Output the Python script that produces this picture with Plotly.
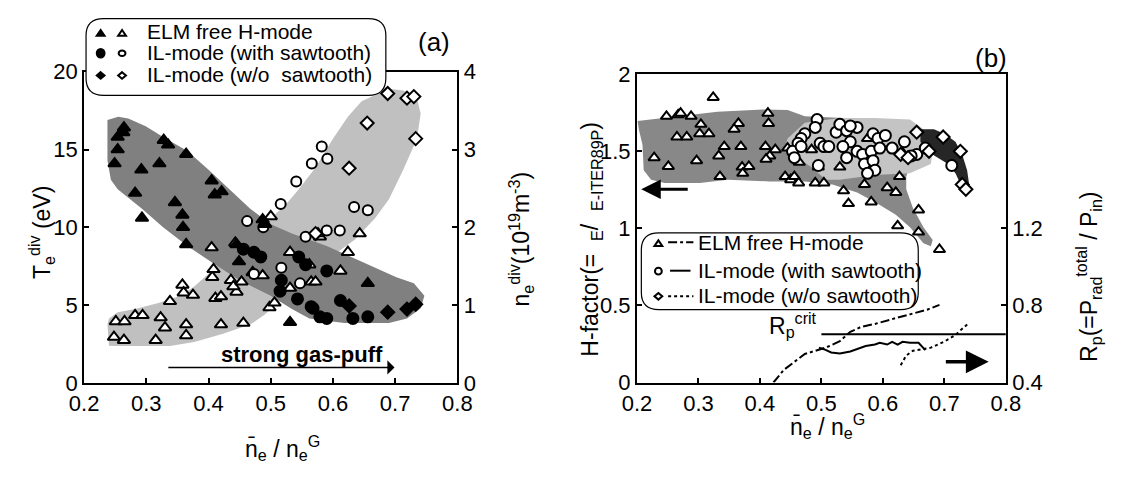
import plotly.graph_objects as go

W, H = 1125, 477
FONT = "Liberation Sans, Arial, sans-serif"

# ---------------- Panel (a) data ----------------
# ELM free H-mode, Te^div (left axis, eV)
a_elm_te_x = [0.264, 0.263, 0.254, 0.254, 0.249, 0.292, 0.282, 0.293, 0.328, 0.335, 0.321, 0.364,
              0.346, 0.358, 0.359, 0.364, 0.405, 0.410, 0.421, 0.445, 0.449, 0.487, 0.491, 0.531, 0.656]
a_elm_te_y = [16.4, 16.1, 15.8, 15.0, 14.1, 13.7, 12.2, 10.6, 15.6, 15.3, 14.1, 14.7,
              11.6, 10.8, 10.0, 8.9, 13.0, 12.1, 12.3, 8.9, 7.8, 10.5, 10.2, 3.9, 6.4]
# IL-mode (with sawtooth), Te^div
a_ils_te_x = [0.456, 0.473, 0.484, 0.517, 0.515, 0.543, 0.545, 0.556, 0.565, 0.568, 0.579, 0.590,
              0.590, 0.612, 0.632, 0.656]
a_ils_te_y = [8.6, 8.4, 8.1, 6.6, 5.9, 5.4, 8.1, 7.6, 4.9, 4.8, 4.25, 4.15, 7.2, 5.3, 4.15, 4.25]
# IL-mode (w/o sawtooth), Te^div
a_ilw_te_x = [0.626, 0.688, 0.719, 0.733]
a_ilw_te_y = [4.95, 4.55, 4.75, 5.06]

# ELM free H-mode, ne^div (right axis, 1e19 m^-3)
a_elm_ne_x = [0.248, 0.251, 0.265, 0.264, 0.282, 0.294, 0.315, 0.323, 0.330, 0.338, 0.358, 0.360,
              0.375, 0.364, 0.364, 0.405, 0.406, 0.408, 0.411, 0.420, 0.420, 0.443, 0.436, 0.445,
              0.440, 0.453, 0.456, 0.471, 0.487, 0.500, 0.498, 0.506, 0.531, 0.531, 0.562, 0.565,
              0.572, 0.579, 0.576, 0.612, 0.624, 0.643]
a_elm_ne_y = [0.59, 0.79, 0.79, 0.55, 0.87, 0.87, 0.55, 0.84, 0.71, 1.05, 1.26, 1.16,
              1.13, 0.75, 0.61, 1.74, 1.36, 1.46, 1.09, 1.11, 0.75, 1.80, 1.32, 1.17,
              1.24, 1.30, 0.77, 1.42, 1.38, 2.14, 0.97, 1.03, 1.68, 1.22, 1.52, 1.30,
              1.30, 1.88, 1.92, 1.44, 1.68, 1.92]
# IL-mode (with sawtooth), ne^div
a_ils_ne_x = [0.462, 0.488, 0.473, 0.517, 0.516, 0.541, 0.547, 0.556, 0.566, 0.582, 0.591, 0.590,
              0.611, 0.634, 0.656]
a_ils_ne_y = [2.08, 2.00, 1.40, 1.48, 2.30, 2.59, 1.28, 1.88, 2.82, 3.04, 2.88, 1.96,
              1.96, 2.26, 2.22]
# IL-mode (w/o sawtooth), ne^div
a_ilw_ne_x = [0.688, 0.719, 0.730, 0.655, 0.733, 0.626, 0.572]
a_ilw_ne_y = [3.72, 3.66, 3.68, 3.34, 3.14, 2.76, 1.92]

# shaded bands (a): Te band in eV, ne band in 1e19 m^-3
a_te_band_x = [0.2375, 0.255, 0.271, 0.299, 0.327, 0.366, 0.400, 0.433, 0.467, 0.500, 0.534, 0.590,
               0.646, 0.702, 0.730, 0.747, 0.741, 0.719, 0.690, 0.618, 0.562, 0.534, 0.500, 0.450,
               0.411, 0.366, 0.327, 0.293, 0.254, 0.243, 0.2375, 0.2375]
a_te_band_y = [16.9, 17.1, 17.0, 16.5, 15.8, 14.9, 13.7, 12.45, 11.2, 10.2, 9.6, 8.8,
               7.8, 6.8, 6.4, 5.6, 4.8, 4.15, 3.85, 3.85, 4.15, 4.75, 5.6, 6.6,
               7.6, 8.8, 10.0, 11.2, 12.45, 13.05, 14.3, 15.7]
a_ne_band_x = [0.2375, 0.240, 0.254, 0.338, 0.377, 0.422, 0.467, 0.489, 0.512, 0.545, 0.579, 0.607,
               0.635, 0.668, 0.690, 0.713, 0.735, 0.741, 0.735, 0.713, 0.690, 0.646, 0.624, 0.600,
               0.573, 0.545, 0.523, 0.500, 0.478, 0.450, 0.422, 0.400, 0.377, 0.355, 0.321, 0.282,
               0.254, 0.240]
a_ne_band_y = [0.75, 0.48, 0.474, 0.474, 0.526, 0.628, 0.75, 0.87, 1.032, 1.28, 1.52, 1.68,
               1.84, 2.12, 2.36, 2.74, 3.14, 3.46, 3.66, 3.76, 3.78, 3.62, 3.42, 3.14,
               2.78, 2.49, 2.28, 2.12, 2.0, 1.84, 1.56, 1.4, 1.24, 1.12, 1.032, 0.95,
               0.91, 0.83]
a_arrow_x = [0.333, 0.699]
a_arrow_te = 1.0

# axis ranges (a)
TE_RANGE = [0, 20]
NE_RANGE = [0, 4]

# ---------------- Panel (b) data ----------------
b_elm_x = [0.324, 0.248, 0.267, 0.271, 0.288, 0.304, 0.302, 0.317, 0.265, 0.281, 0.297, 0.228, 0.251,
           0.365, 0.358, 0.342, 0.369, 0.333, 0.335, 0.413, 0.414, 0.409, 0.425, 0.416, 0.410,
           0.371, 0.372, 0.382, 0.445, 0.441, 0.450, 0.456, 0.463, 0.464, 0.484, 0.490, 0.504,
           0.495, 0.530, 0.536, 0.544, 0.570, 0.575, 0.581, 0.607, 0.621, 0.627, 0.632, 0.624,
           0.658, 0.658, 0.692]
b_elm_h = [1.85, 1.727, 1.737, 1.747, 1.727, 1.675, 1.614, 1.614, 1.593, 1.593, 1.439, 1.459, 1.402,
           1.681, 1.644, 1.531, 1.531, 1.47, 1.336, 1.747, 1.681, 1.531, 1.511, 1.47, 1.449,
           1.398, 1.357, 1.402, 1.521, 1.336, 1.316, 1.336, 1.295, 1.429, 1.511, 1.295, 1.295,
           1.398, 1.398, 1.244, 1.161, 1.285, 1.583, 1.172, 1.264, 1.233, 1.336, 1.49, 1.017,
           1.12, 0.976, 0.863]
b_ils_x = [0.493, 0.490, 0.473, 0.467, 0.462, 0.453, 0.456, 0.467, 0.498, 0.504, 0.512, 0.524,
           0.530, 0.541, 0.547, 0.535, 0.558, 0.541, 0.558, 0.547, 0.567, 0.570, 0.584, 0.581,
           0.584, 0.587, 0.575, 0.592, 0.604, 0.595, 0.615, 0.635, 0.655, 0.646, 0.669, 0.712, 0.495]
b_ils_h = [1.706, 1.655, 1.614, 1.583, 1.552, 1.5, 1.459, 1.531, 1.552, 1.531, 1.531, 1.624,
           1.675, 1.634, 1.562, 1.531, 1.5, 1.459, 1.655, 1.665, 1.48, 1.418, 1.614, 1.5,
           1.439, 1.377, 1.357, 1.583, 1.603, 1.521, 1.521, 1.562, 1.48, 1.47, 1.521, 1.408, 1.408]
b_ilw_x = [0.655, 0.698, 0.629, 0.641, 0.675, 0.726, 0.729, 0.735]
b_ilw_h = [1.624, 1.593, 1.48, 1.459, 1.5, 1.5, 1.285, 1.254]

# radiation fraction curves (right axis)
b_elm_rp_x = [0.422, 0.439, 0.473, 0.507, 0.530, 0.547, 0.564, 0.587, 0.615, 0.644, 0.672, 0.692]
b_elm_rp = [0.40, 0.466, 0.548, 0.581, 0.614, 0.663, 0.688, 0.704, 0.729, 0.754, 0.778, 0.803]
b_ils_rp_x = [0.496, 0.504, 0.516, 0.530, 0.547, 0.558, 0.572, 0.587, 0.595, 0.607, 0.615, 0.624,
              0.632, 0.644, 0.658, 0.669]
b_ils_rp = [0.581, 0.573, 0.556, 0.551, 0.561, 0.573, 0.589, 0.597, 0.606, 0.597, 0.611, 0.597,
            0.611, 0.606, 0.606, 0.568]
b_ilw_rp_x = [0.629, 0.638, 0.649, 0.678, 0.701, 0.718, 0.729, 0.738]
b_ilw_rp = [0.49, 0.54, 0.565, 0.581, 0.614, 0.647, 0.679, 0.704]
b_rp_crit = 0.65
b_rp_crit_x = [0.5, 0.8]

# shaded bands (b)
b_elm_band_x = [0.201, 0.245, 0.331, 0.405, 0.445, 0.473, 0.644, 0.655, 0.649, 0.638, 0.638, 0.649,
                0.666, 0.681, 0.678, 0.666, 0.644, 0.621, 0.587, 0.558, 0.518, 0.473, 0.416, 0.348,
                0.302, 0.245, 0.223, 0.211, 0.209, 0.203]
b_elm_band_h = [1.696, 1.716, 1.757, 1.772, 1.768, 1.727, 1.696, 1.624, 1.459, 1.336, 1.254, 1.13,
                1.007, 0.925, 0.884, 0.904, 1.007, 1.089, 1.172, 1.233, 1.285, 1.305, 1.305, 1.316,
                1.295, 1.295, 1.316, 1.377, 1.542, 1.644]
b_ils_band_x = [0.445, 0.473, 0.530, 0.587, 0.644, 0.666, 0.683, 0.678, 0.644, 0.587, 0.530, 0.507,
                0.484, 0.450, 0.442]
b_ils_band_h = [1.583, 1.686, 1.716, 1.716, 1.706, 1.644, 1.542, 1.418, 1.357, 1.346, 1.316, 1.316,
                1.398, 1.480, 1.542]
b_ilw_band_x = [0.661, 0.683, 0.700, 0.718, 0.729, 0.737, 0.740, 0.735, 0.729, 0.718, 0.706, 0.689,
                0.672, 0.661]
b_ilw_band_h = [1.644, 1.644, 1.614, 1.562, 1.48, 1.377, 1.295, 1.254, 1.264, 1.357, 1.418, 1.459,
                1.5, 1.562]
b_arrow_left_x = [0.285, 0.207]
b_arrow_left_h = 1.254
b_arrow_right_x = [0.700, 0.772]
b_arrow_right_h = 0.134

# ---------------- geometry helpers (pixels -> paper) ----------------
def px(x):
    return x / W

def py(y):
    return 1 - y / H

A_L, A_R, A_T, A_B = 71.0, 454.5, 63.0, 391.5
B_L, B_R, B_T, B_B = 639.0, 1018.0, 65.7, 391.0

# Te values are drawn in the ne (right-axis) layer so that the layering matches
K_TE = (NE_RANGE[1] - NE_RANGE[0]) / (TE_RANGE[1] - TE_RANGE[0])
te = lambda v: [t * K_TE for t in v]

fig = go.Figure()

def band(x, y, color, xa, ya):
    fig.add_trace(go.Scatter(x=x + [x[0]], y=y + [y[0]], fill="toself", fillcolor=color,
                             line=dict(width=0, color=color), mode="lines", hoverinfo="skip",
                             xaxis=xa, yaxis=ya, showlegend=False))

def pts(x, y, symbol, filled, size, xa, ya):
    fig.add_trace(go.Scatter(x=x, y=y, mode="markers", xaxis=xa, yaxis=ya, showlegend=False,
                             marker=dict(symbol=symbol, size=size,
                                         color="black" if filled else "white",
                                         line=dict(color="black", width=2))))

# panel (a)
fig.add_trace(go.Scatter(x=[], y=[], xaxis="x", yaxis="y", showlegend=False))
band(a_ne_band_x, a_ne_band_y, "#c0c0c0", "x", "y2")
band(a_te_band_x, te(a_te_band_y), "#808080", "x", "y2")
pts(a_elm_ne_x, a_elm_ne_y, "triangle-up", False, 11, "x", "y2")
pts(a_ils_ne_x, a_ils_ne_y, "circle", False, 10, "x", "y2")
pts(a_ilw_ne_x, a_ilw_ne_y, "diamond", False, 10, "x", "y2")
pts(a_elm_te_x, te(a_elm_te_y), "triangle-up", True, 11, "x", "y2")
pts(a_ils_te_x, te(a_ils_te_y), "circle", True, 11, "x", "y2")
pts(a_ilw_te_x, te(a_ilw_te_y), "diamond", True, 10, "x", "y2")

# panel (b)
band(b_elm_band_x, b_elm_band_h, "#888888", "x2", "y3")
band(b_ils_band_x, b_ils_band_h, "#c4c4c4", "x2", "y3")
band(b_ilw_band_x, b_ilw_band_h, "#262626", "x2", "y3")
pts(b_elm_x, b_elm_h, "triangle-up", False, 10, "x2", "y3")
pts(b_ils_x, b_ils_h, "circle", False, 11, "x2", "y3")
pts(b_ilw_x, b_ilw_h, "diamond", False, 10, "x2", "y3")

def line(x, y, dash, xa, ya):
    fig.add_trace(go.Scatter(x=x, y=y, mode="lines", xaxis=xa, yaxis=ya, showlegend=False,
                             line=dict(color="black", width=2, dash=dash)))

line(b_elm_rp_x, b_elm_rp, "dashdot", "x2", "y4")
line(b_ils_rp_x, b_ils_rp, "solid", "x2", "y4")
line(b_ilw_rp_x, b_ilw_rp, "dot", "x2", "y4")
line(b_rp_crit_x, [b_rp_crit, b_rp_crit], "solid", "x2", "y4")

TICKSIZE = 22
axis_common = dict(showline=True, linecolor="black", linewidth=2, ticks="inside", ticklen=5,
                   tickcolor="black", tickwidth=1.5, showgrid=False, zeroline=False,
                   tickfont=dict(family=FONT, size=TICKSIZE, color="black"))

fig.update_layout(
    width=W, height=H, margin=dict(l=0, r=0, t=0, b=0),
    paper_bgcolor="white", plot_bgcolor="white", showlegend=False,
    xaxis=dict(domain=[px(A_L), px(A_R)], range=[0.2, 0.8], anchor="y", mirror=True,
               tickvals=[0.2, 0.3, 0.4, 0.5, 0.6, 0.7, 0.8], **axis_common),
    yaxis=dict(domain=[py(A_B), py(A_T)], range=TE_RANGE, anchor="x",
               tickvals=[0, 5, 10, 15, 20], **axis_common),
    yaxis2=dict(domain=[py(A_B), py(A_T)], range=NE_RANGE, anchor="x", overlaying="y", side="right",
                tickvals=[0, 1, 2, 3, 4], **axis_common),
    xaxis2=dict(domain=[px(B_L), px(B_R)], range=[0.2, 0.8], anchor="y3", mirror=True,
                tickvals=[0.2, 0.3, 0.4, 0.5, 0.6, 0.7, 0.8], **axis_common),
    yaxis3=dict(domain=[py(B_B), py(B_T)], range=[0, 2], anchor="x2",
                tickvals=[0, 0.5, 1, 1.5, 2], ticktext=["0", "0.5", "1", "1.5", "2"], **axis_common),
    yaxis4=dict(domain=[py(B_B), py(B_T)], range=[0.4, 2.0], anchor="x2", overlaying="y3",
                side="right", tickvals=[0.4, 0.8, 1.2], ticktext=["0.4", "0.8", "1.2"], **axis_common),
)

def rrect(x0, y0, x1, y1, r):
    P = lambda x, y: f"{px(x):.5f},{py(y):.5f}"
    return (f"M {P(x0 + r, y0)} L {P(x1 - r, y0)} Q {P(x1, y0)} {P(x1, y0 + r)} "
            f"L {P(x1, y1 - r)} Q {P(x1, y1)} {P(x1 - r, y1)} L {P(x0 + r, y1)} "
            f"Q {P(x0, y1)} {P(x0, y1 - r)} L {P(x0, y0 + r)} Q {P(x0, y0)} {P(x0 + r, y0)} Z")

shapes = []
def shp(**kw):
    d = dict(xref="paper", yref="paper", layer="above")
    d.update(kw)
    shapes.append(d)

# legend boxes
shp(type="path", path=rrect(73, 7, 381, 88, 18), fillcolor="white", line=dict(color="black", width=1.2))
shp(type="path", path=rrect(643.5, 233, 928, 314, 18), fillcolor="white", line=dict(color="black", width=1.2))

def tri(cx, cy, w, h, filled):
    p = (f"M {px(cx):.5f},{py(cy - h/2):.5f} L {px(cx + w/2):.5f},{py(cy + h/2):.5f} "
         f"L {px(cx - w/2):.5f},{py(cy + h/2):.5f} Z")
    shp(type="path", path=p, fillcolor="black" if filled else "white", line=dict(color="black", width=2))

def circ(cx, cy, rx, ry, filled):
    shp(type="circle", x0=px(cx - rx), x1=px(cx + rx), y0=py(cy + ry), y1=py(cy - ry),
        fillcolor="black" if filled else "white", line=dict(color="black", width=2))

def dia(cx, cy, w, h, filled):
    p = (f"M {px(cx):.5f},{py(cy - h/2):.5f} L {px(cx + w/2):.5f},{py(cy):.5f} "
         f"L {px(cx):.5f},{py(cy + h/2):.5f} L {px(cx - w/2):.5f},{py(cy):.5f} Z")
    shp(type="path", path=p, fillcolor="black" if filled else "white", line=dict(color="black", width=2))

# legend (a) symbols
tri(88, 22, 8, 6, True); tri(110, 22, 8, 6, False)
circ(88, 43.5, 4, 4.5, True); circ(110, 43.5, 3.5, 3, False)
dia(88, 67, 8, 7, True); dia(110, 67, 8, 7, False)
# legend (b) symbols and line samples
tri(661, 244, 8, 6, False)
circ(661, 273.5, 3.5, 3.5, False)
dia(661, 300, 8, 7, False)
shp(type="line", x0=px(671), x1=px(697), y0=py(243), y1=py(243), line=dict(color="black", width=2, dash="dashdot"))
shp(type="line", x0=px(673), x1=px(694), y0=py(273), y1=py(273), line=dict(color="black", width=2))
shp(type="line", x0=px(671), x1=px(697), y0=py(300), y1=py(300), line=dict(color="black", width=2, dash="dot"))

fig.update_layout(shapes=shapes)

ann = []
def txt(x, y, s, size=21, angle=0, xanchor="center", bold=False):
    if bold:
        s = f"<b>{s}</b>"
    ann.append(dict(x=px(x), y=py(y), xref="paper", yref="paper", text=s, showarrow=False,
                    textangle=angle, xanchor=xanchor, yanchor="middle",
                    font=dict(family=FONT, size=size, color="black")))

# legend texts
txt(134, 21, "ELM free H-mode", 21, xanchor="left")
txt(134, 43, "IL-mode (with sawtooth)", 21, xanchor="left")
txt(134, 66, "IL-mode (w/o\u00a0 sawtooth)", 21, xanchor="left")
txt(700, 243, "ELM free H-mode", 21, xanchor="left")
txt(700, 273, "IL-mode (with sawtooth)", 21, xanchor="left")
txt(700, 299, "IL-mode (w/o sawtooth)", 21, xanchor="left")

# panel labels
txt(430, 32, "(a)", 26)
txt(1003, 49, "(b)", 26)

# axis titles
xt = "n\u0304<sub>e</sub> / n<sub>e</sub><sup>G</sup>"
txt(275, 460, xt, 23)
txt(835, 437, xt, 23)
txt(27, 233, "T<sub>e</sub><sup>div</sup> (eV)", 23, angle=-90)
txt(520, 240, "n<sub>e</sub><sup>div</sup>(10<sup>19</sup>m<sup>-3</sup>)", 23, angle=-90)
txt(592, 240, "H-factor(=\u00a0 <sub>E</sub>/\u00a0 <sub>E-ITER89P</sub>)", 23, angle=-90)
txt(1103, 280, "R<sub>p</sub>(=P<sub>rad</sub><sup>total</sup> / P<sub>in</sub>)", 23, angle=-90)

# annotations inside plots
txt(295, 361, "strong gas-puff", 22, bold=True)
txt(799, 330, "R<sub>p</sub><sup>crit</sup>", 23)

ann.append(dict(x=a_arrow_x[1], y=a_arrow_te * K_TE, ax=a_arrow_x[0], ay=a_arrow_te * K_TE,
                xref="x", yref="y2", axref="x", ayref="y2", text="", showarrow=True, arrowhead=1,
                arrowsize=1.6, arrowwidth=1.5, arrowcolor="black"))
ann.append(dict(x=b_arrow_left_x[1], y=b_arrow_left_h, ax=b_arrow_left_x[0], ay=b_arrow_left_h,
                xref="x2", yref="y3", axref="x2", ayref="y3", text="", showarrow=True,
                arrowhead=2, arrowsize=1.3, arrowwidth=3, arrowcolor="black"))
ann.append(dict(x=b_arrow_right_x[1], y=b_arrow_right_h, ax=b_arrow_right_x[0], ay=b_arrow_right_h,
                xref="x2", yref="y3", axref="x2", ayref="y3", text="", showarrow=True,
                arrowhead=2, arrowsize=1.3, arrowwidth=3.5, arrowcolor="black"))

fig.update_layout(annotations=ann)

fig.write_html("out.html")
